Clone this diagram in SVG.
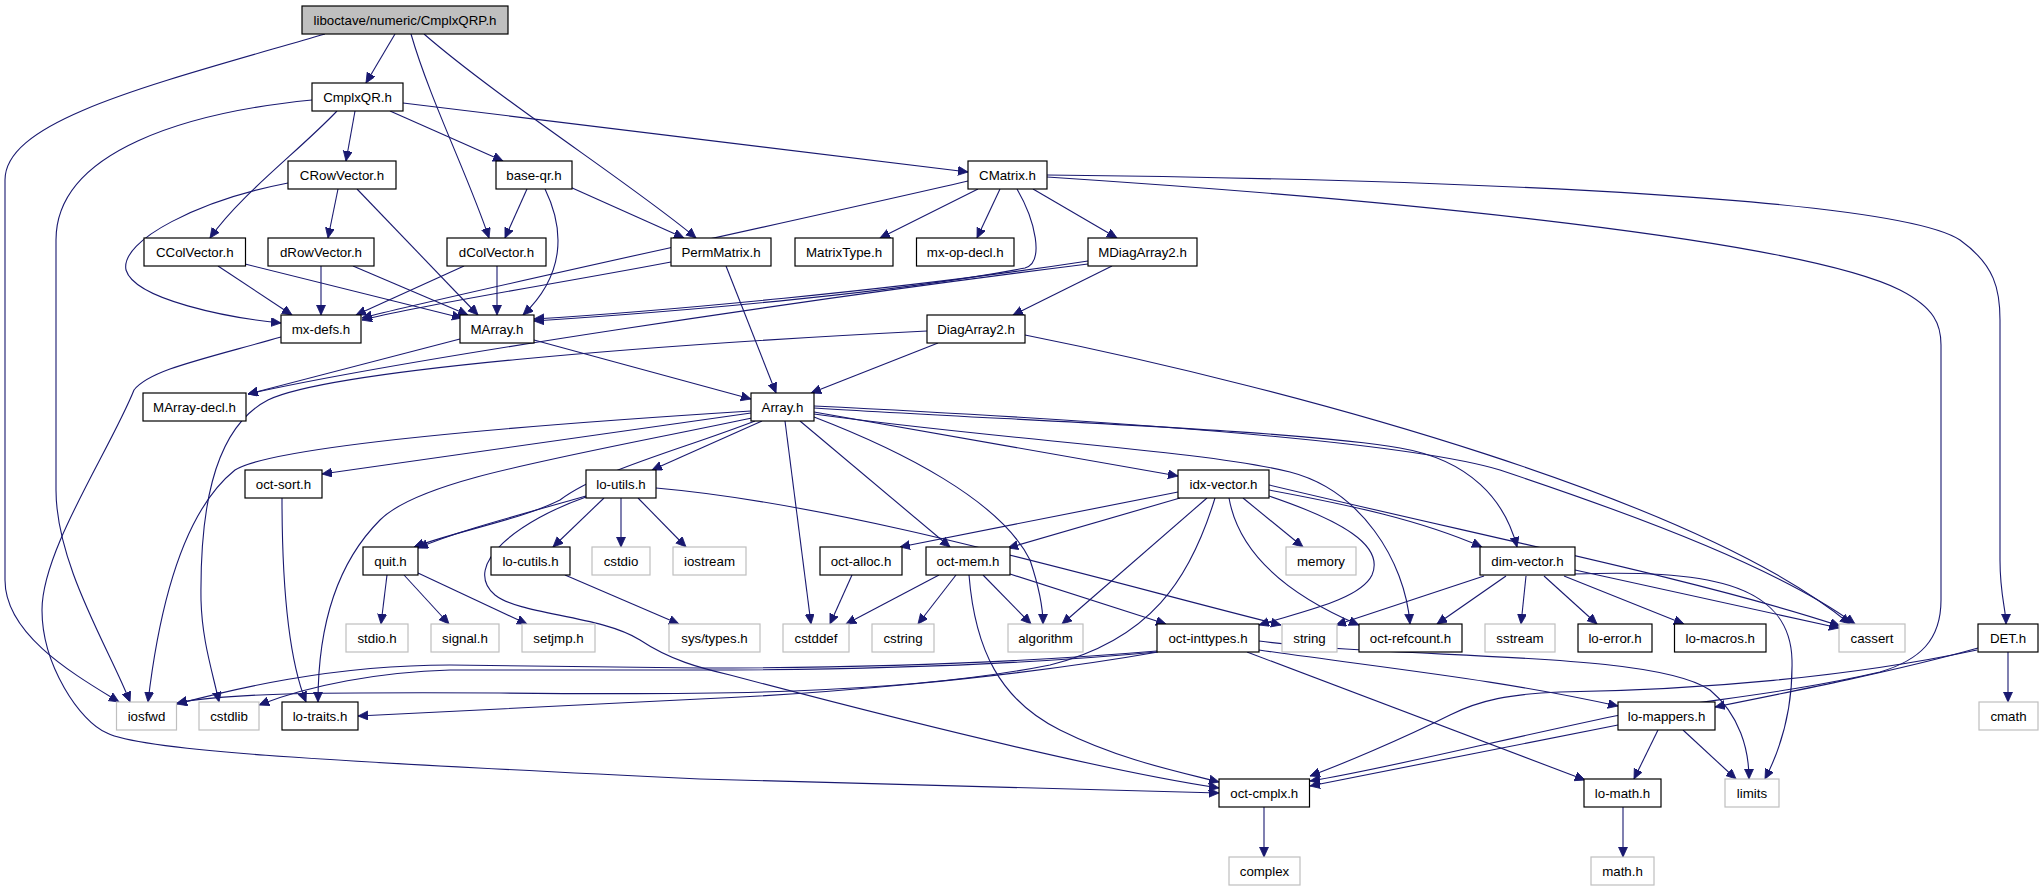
<svg xmlns="http://www.w3.org/2000/svg" width="2043" height="891" viewBox="0 0 2043 891">
<style>
.n rect{fill:#fff;stroke:#000;stroke-width:1.2}
.g rect{fill:#fff;stroke:#bfbfbf;stroke-width:1.2}
.r rect{fill:#bfbfbf;stroke:#000;stroke-width:1.2}
text{font-family:"Liberation Sans",Arial,sans-serif;font-size:13.3px;text-anchor:middle;fill:#000}
#edges path{fill:none;stroke:#191970;stroke-width:1.1;marker-end:url(#a)}
</style>
<defs>
<marker id="a" markerUnits="userSpaceOnUse" viewBox="0 0 11 10" markerWidth="11" markerHeight="10" refX="10" refY="4.5" orient="auto">
<path d="M0,0 L10,4.5 L0,9 z" fill="#191970" stroke="#191970" stroke-width="0.8"/>
</marker>
</defs>
<rect width="2043" height="891" fill="#fff"/>
<g id="edges">
<path d="M325,34 C150,85 5,120 5,180 L5,580 C5,635 75,675 119,702"/>
<path d="M395,34 L366,83"/>
<path d="M411,34 C430,100 470,180 489,238"/>
<path d="M424,34 C500,100 640,190 696,238"/>
<path d="M312,100 C190,112 56,150 56,240 L56,490 C56,565 110,650 130,702"/>
<path d="M337,111 C300,150 240,195 210,238"/>
<path d="M355,111 L346,161"/>
<path d="M390,111 L503,161"/>
<path d="M403,103 L968,172"/>
<path d="M288,183 C200,200 120,240 126,270 C135,300 230,318 281,323"/>
<path d="M338,189 L328,238"/>
<path d="M357,189 L478,315"/>
<path d="M527,189 L505,238"/>
<path d="M545,189 C565,230 565,275 523,315"/>
<path d="M570,187 L684,238"/>
<path d="M218,266 L292,315"/>
<path d="M245,264 L462,318"/>
<path d="M321,266 L321,315"/>
<path d="M353,266 L468,315"/>
<path d="M464,266 L356,315"/>
<path d="M497,266 L497,315"/>
<path d="M671,262 C550,285 420,305 362,320"/>
<path d="M726,266 L776,393"/>
<path d="M968,181 C800,220 450,295 362,318"/>
<path d="M978,189 L880,238"/>
<path d="M1000,189 L977,238"/>
<path d="M1033,189 L1117,238"/>
<path d="M1017,189 C1035,220 1045,262 1025,268 C900,292 700,310 534,321"/>
<path d="M1047,175 C1500,180 1900,200 1960,240 C1995,265 2000,290 2000,320 L2000,560 C2000,595 2006,610 2006,624"/>
<path d="M1047,177 C1400,200 1800,240 1900,290 C1935,308 1941,325 1941,345 L1941,600 C1941,640 1920,660 1880,672 C1780,695 1700,700 1615,716 C1500,740 1380,770 1310,781"/>
<path d="M1088,261 C900,290 650,312 534,319"/>
<path d="M1088,264 C800,300 400,360 248,394"/>
<path d="M1112,266 L1013,315"/>
<path d="M281,337 C200,360 150,370 134,390 C110,450 42,550 42,610 C42,665 80,722 107,733 C140,750 300,760 700,779 L1219,793"/>
<path d="M460,339 L248,394"/>
<path d="M534,340 L751,399"/>
<path d="M927,331 C650,345 330,370 268,400 C210,430 200,520 201,600 C202,640 212,670 219,702"/>
<path d="M938,343 L811,393"/>
<path d="M1025,335 C1300,390 1700,500 1850,624"/>
<path d="M751,411 C480,428 270,448 235,470 C185,510 160,600 148,702"/>
<path d="M751,413 L322,474"/>
<path d="M752,418 C550,460 420,480 380,520 C330,570 318,640 318,702"/>
<path d="M755,421 C680,450 600,470 560,500 C520,520 460,530 414,547"/>
<path d="M762,421 L652,470"/>
<path d="M785,421 L811,624"/>
<path d="M800,421 L950,547"/>
<path d="M814,417 C900,450 1000,500 1030,560 C1040,590 1043,610 1043,624"/>
<path d="M814,412 L1178,476"/>
<path d="M814,408 C1000,420 1300,430 1400,448 C1470,460 1505,500 1517,547"/>
<path d="M814,406 C1100,420 1400,440 1500,470 C1650,520 1780,570 1855,624"/>
<path d="M814,414 C1000,440 1200,450 1290,472 C1360,490 1405,560 1410,624"/>
<path d="M586,496 C520,515 460,530 418,548"/>
<path d="M604,498 L553,547"/>
<path d="M621,498 L621,547"/>
<path d="M638,498 L686,547"/>
<path d="M656,488 C850,505 1100,580 1281,625"/>
<path d="M586,497 C520,520 460,565 495,595 C520,615 600,615 640,640 C670,660 700,668 730,675 C900,720 1100,770 1219,788"/>
<path d="M387,575 L381,624"/>
<path d="M404,575 L449,624"/>
<path d="M418,573 L527,624"/>
<path d="M565,575 L679,624"/>
<path d="M282,498 C282,560 285,650 306,702"/>
<path d="M1178,492 L900,547"/>
<path d="M1180,498 L1008,548"/>
<path d="M1207,498 L1062,624"/>
<path d="M1215,498 C1190,580 1150,640 1050,665 C900,695 700,695 500,693 C300,692 220,694 177,703"/>
<path d="M1243,498 L1303,547"/>
<path d="M1269,496 C1340,520 1385,545 1372,575 C1360,600 1300,612 1259,625"/>
<path d="M1229,498 C1240,560 1300,600 1359,625"/>
<path d="M1269,490 C1350,505 1420,520 1482,547"/>
<path d="M1269,485 C1500,540 1700,580 1840,626"/>
<path d="M852,575 L830,624"/>
<path d="M939,575 L846,624"/>
<path d="M956,575 L918,624"/>
<path d="M983,575 L1031,624"/>
<path d="M1010,574 L1166,624"/>
<path d="M969,575 C975,650 1000,700 1060,730 C1120,760 1180,772 1219,782"/>
<path d="M1157,651 C1050,660 900,668 700,668 L450,665 C330,665 230,690 177,704"/>
<path d="M1157,652 C1050,662 900,670 700,670 L450,670 C380,672 310,685 259,705"/>
<path d="M1158,652 C1000,680 800,695 700,699 L358,716"/>
<path d="M1259,641 C1400,660 1650,650 1710,690 C1740,715 1749,750 1749,779"/>
<path d="M1259,650 C1400,670 1500,680 1618,706"/>
<path d="M1247,652 L1585,780"/>
<path d="M1484,576 L1336,625"/>
<path d="M1506,576 L1437,624"/>
<path d="M1526,576 L1521,624"/>
<path d="M1544,576 L1597,624"/>
<path d="M1564,576 L1684,624"/>
<path d="M1575,570 L1839,628"/>
<path d="M1575,574 C1700,570 1790,580 1792,660 C1793,710 1780,750 1765,779"/>
<path d="M2008,652 L2008,702"/>
<path d="M1978,648 C1900,670 1800,690 1715,707"/>
<path d="M1977,650 C1850,677 1700,690 1560,692 C1510,694 1480,700 1450,715 C1400,740 1340,765 1310,776"/>
<path d="M1618,725 L1310,786"/>
<path d="M1658,730 L1634,779"/>
<path d="M1683,730 L1736,779"/>
<path d="M1623,807 L1623,857"/>
<path d="M1264,807 L1264,857"/>
</g>
<g id="CmplxQRP" class="r"><rect x="302" y="6" width="206" height="28"/><text x="405" y="24.7">liboctave/numeric/CmplxQRP.h</text></g>
<g id="CmplxQR" class="n"><rect x="312" y="83" width="91" height="28"/><text x="357.5" y="101.7">CmplxQR.h</text></g>
<g id="CRowVector" class="n"><rect x="288" y="161" width="108" height="28"/><text x="342" y="179.7">CRowVector.h</text></g>
<g id="base-qr" class="n"><rect x="496" y="161" width="76" height="28"/><text x="534" y="179.7">base-qr.h</text></g>
<g id="CMatrix" class="n"><rect x="968" y="161" width="79" height="28"/><text x="1007.5" y="179.7">CMatrix.h</text></g>
<g id="CColVector" class="n"><rect x="144" y="238" width="101.5" height="28"/><text x="194.75" y="256.7">CColVector.h</text></g>
<g id="dRowVector" class="n"><rect x="268" y="238" width="106" height="28"/><text x="321" y="256.7">dRowVector.h</text></g>
<g id="dColVector" class="n"><rect x="447" y="238" width="99" height="28"/><text x="496.5" y="256.7">dColVector.h</text></g>
<g id="PermMatrix" class="n"><rect x="671" y="238" width="100" height="28"/><text x="721" y="256.7">PermMatrix.h</text></g>
<g id="MatrixType" class="n"><rect x="795" y="238" width="98" height="28"/><text x="844" y="256.7">MatrixType.h</text></g>
<g id="mx-op-decl" class="n"><rect x="916.5" y="238" width="97.5" height="28"/><text x="965.25" y="256.7">mx-op-decl.h</text></g>
<g id="MDiagArray2" class="n"><rect x="1088" y="238" width="109" height="28"/><text x="1142.5" y="256.7">MDiagArray2.h</text></g>
<g id="mx-defs" class="n"><rect x="281" y="315" width="80" height="28"/><text x="321" y="333.7">mx-defs.h</text></g>
<g id="MArray" class="n"><rect x="460" y="315" width="74" height="28"/><text x="497" y="333.7">MArray.h</text></g>
<g id="DiagArray2" class="n"><rect x="927" y="315" width="98" height="28"/><text x="976" y="333.7">DiagArray2.h</text></g>
<g id="MArray-decl" class="n"><rect x="143" y="393" width="103" height="28"/><text x="194.5" y="411.7">MArray-decl.h</text></g>
<g id="Array" class="n"><rect x="751" y="393" width="63" height="28"/><text x="782.5" y="411.7">Array.h</text></g>
<g id="oct-sort" class="n"><rect x="245" y="470" width="77" height="28"/><text x="283.5" y="488.7">oct-sort.h</text></g>
<g id="lo-utils" class="n"><rect x="586" y="470" width="70" height="28"/><text x="621" y="488.7">lo-utils.h</text></g>
<g id="idx-vector" class="n"><rect x="1178" y="470" width="91" height="28"/><text x="1223.5" y="488.7">idx-vector.h</text></g>
<g id="quit" class="n"><rect x="363" y="547" width="55" height="28"/><text x="390.5" y="565.7">quit.h</text></g>
<g id="lo-cutils" class="n"><rect x="491" y="547" width="79" height="28"/><text x="530.5" y="565.7">lo-cutils.h</text></g>
<g id="cstdio" class="g"><rect x="592" y="547" width="58" height="28"/><text x="621" y="565.7">cstdio</text></g>
<g id="iostream" class="g"><rect x="673" y="547" width="73" height="28"/><text x="709.5" y="565.7">iostream</text></g>
<g id="oct-alloc" class="n"><rect x="820" y="547" width="82" height="28"/><text x="861" y="565.7">oct-alloc.h</text></g>
<g id="oct-mem" class="n"><rect x="926" y="547" width="84" height="28"/><text x="968" y="565.7">oct-mem.h</text></g>
<g id="memory" class="g"><rect x="1286" y="547" width="70" height="28"/><text x="1321" y="565.7">memory</text></g>
<g id="dim-vector" class="n"><rect x="1480" y="547" width="95" height="28"/><text x="1527.5" y="565.7">dim-vector.h</text></g>
<g id="stdio" class="g"><rect x="346" y="624" width="62" height="28"/><text x="377" y="642.7">stdio.h</text></g>
<g id="signal" class="g"><rect x="431" y="624" width="68" height="28"/><text x="465" y="642.7">signal.h</text></g>
<g id="setjmp" class="g"><rect x="522" y="624" width="73" height="28"/><text x="558.5" y="642.7">setjmp.h</text></g>
<g id="sys-types" class="g"><rect x="669" y="624" width="91" height="28"/><text x="714.5" y="642.7">sys/types.h</text></g>
<g id="cstddef" class="g"><rect x="783" y="624" width="66" height="28"/><text x="816" y="642.7">cstddef</text></g>
<g id="cstring" class="g"><rect x="872" y="624" width="62" height="28"/><text x="903" y="642.7">cstring</text></g>
<g id="algorithm" class="g"><rect x="1008" y="624" width="75" height="28"/><text x="1045.5" y="642.7">algorithm</text></g>
<g id="oct-inttypes" class="n"><rect x="1157" y="624" width="102" height="28"/><text x="1208" y="642.7">oct-inttypes.h</text></g>
<g id="string" class="g"><rect x="1282" y="624" width="55" height="28"/><text x="1309.5" y="642.7">string</text></g>
<g id="oct-refcount" class="n"><rect x="1359" y="624" width="103" height="28"/><text x="1410.5" y="642.7">oct-refcount.h</text></g>
<g id="sstream" class="g"><rect x="1485" y="624" width="70" height="28"/><text x="1520" y="642.7">sstream</text></g>
<g id="lo-error" class="n"><rect x="1578" y="624" width="74" height="28"/><text x="1615" y="642.7">lo-error.h</text></g>
<g id="lo-macros" class="n"><rect x="1674.5" y="624" width="91.5" height="28"/><text x="1720.25" y="642.7">lo-macros.h</text></g>
<g id="cassert" class="g"><rect x="1839" y="624" width="66" height="28"/><text x="1872" y="642.7">cassert</text></g>
<g id="DET" class="n"><rect x="1978" y="624" width="60" height="28"/><text x="2008" y="642.7">DET.h</text></g>
<g id="iosfwd" class="g"><rect x="116.5" y="702" width="60" height="28"/><text x="146.5" y="720.7">iosfwd</text></g>
<g id="cstdlib" class="g"><rect x="199" y="702" width="60" height="28"/><text x="229" y="720.7">cstdlib</text></g>
<g id="lo-traits" class="n"><rect x="282" y="702" width="76" height="28"/><text x="320" y="720.7">lo-traits.h</text></g>
<g id="lo-mappers" class="n"><rect x="1618" y="702" width="97" height="28"/><text x="1666.5" y="720.7">lo-mappers.h</text></g>
<g id="cmath" class="g"><rect x="1979" y="702" width="59" height="28"/><text x="2008.5" y="720.7">cmath</text></g>
<g id="oct-cmplx" class="n"><rect x="1219" y="779" width="90.5" height="28"/><text x="1264.25" y="797.7">oct-cmplx.h</text></g>
<g id="lo-math" class="n"><rect x="1584" y="779" width="77" height="28"/><text x="1622.5" y="797.7">lo-math.h</text></g>
<g id="limits" class="g"><rect x="1725" y="779" width="54" height="28"/><text x="1752" y="797.7">limits</text></g>
<g id="complex" class="g"><rect x="1229" y="857" width="71" height="28"/><text x="1264.5" y="875.7">complex</text></g>
<g id="math" class="g"><rect x="1591" y="857" width="63" height="28"/><text x="1622.5" y="875.7">math.h</text></g>
</svg>
